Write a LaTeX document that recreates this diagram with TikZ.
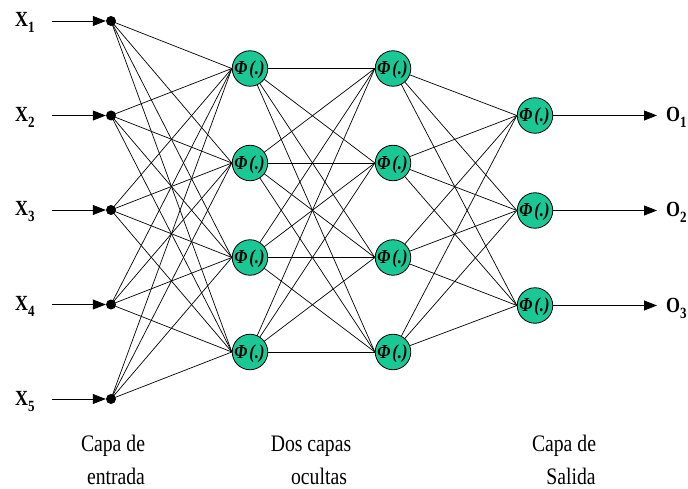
\documentclass[tikz,border=0pt]{standalone}
\usepackage{fontspec}
\setmainfont{Liberation Serif}[
  BoldFont={Liberation Serif Bold},
  ItalicFont={Liberation Serif Italic},
  BoldItalicFont={Liberation Serif Bold Italic}]
\usetikzlibrary{arrows.meta,backgrounds}
\definecolor{neuronfill}{RGB}{26,200,150}
% text set slightly taller than wide
\newcommand{\tall}[1]{\scalebox{1}[1.2]{#1}}
\newcommand{\phiact}{\tall{\bfseries\itshape Φ\hspace{2pt}(.)}}
\newcommand{\varsub}[2]{\tall{\bfseries #1\raisebox{-5pt}{\fontsize{13}{13}\bfseries\selectfont #2}}}
\tikzset{
  neuron/.style={circle,draw=black,line width=0.8pt,fill=neuronfill,minimum size=35.5pt,inner sep=0pt},
  phitext/.style={font=\fontsize{16.5}{16.5}\selectfont,inner sep=0pt},
  inputdot/.style={circle,fill=black,minimum size=10pt,inner sep=0pt},
  link/.style={line width=0.7pt},
  feed/.style={line width=0.8pt,-{Triangle[length=13pt,width=10pt]}},
  varlabel/.style={font=\fontsize{18}{18}\selectfont,anchor=base west,inner sep=0pt},
  caption/.style={font=\fontsize{19.7}{20}\selectfont,anchor=base,inner sep=0pt}
}
\begin{document}
\begin{tikzpicture}[x=1pt,y=-1pt]
\useasboundingbox (0,0) rectangle (688,489);

% input layer
\foreach \i/\y in {1/21,2/115.5,3/210,4/304.5,5/399}{
  \node[inputdot] (in\i) at (111,\y) {};
  \coordinate (src\i) at (52,\y);
  \node[varlabel] (xl\i) at (15,\y+6) {\varsub{X}{\i}};
}
% first hidden layer
\foreach \j/\y in {1/68.5,2/163,3/257.5,4/352}{
  \node[neuron] (ha\j) at (250,\y) {};
  \node[phitext] (ha\j t) at (249.5,\y+1.5) {\phiact};
}
% second hidden layer
\foreach \j/\y in {1/68.5,2/163,3/257.5,4/352}{
  \node[neuron] (hb\j) at (393,\y) {};
  \node[phitext] (hb\j t) at (392.5,\y+1.5) {\phiact};
}
% output layer
\foreach \k/\y in {1/115.5,2/210.5,3/305.5}{
  \node[neuron] (out\k) at (535,\y) {};
  \node[phitext] (out\k t) at (534.5,\y+1.5) {\phiact};
  \coordinate (dst\k) at (657,\y);
  \node[varlabel] (ol\k) at (666,\y+6.5) {\varsub{O}{\k}};
}

% connections
\begin{scope}[on background layer]
  \foreach \i in {1,...,5}
    \foreach \j in {1,...,4}
      \draw[link] (in\i.center) -- (ha\j.west);
  \foreach \i in {1,...,4}
    \foreach \j in {1,...,4}
      \draw[link] (ha\i.center) -- (hb\j.west);
  \foreach \i in {1,...,4}
    \foreach \k in {1,...,3}
      \draw[link] (hb\i.center) -- (out\k.west);
\end{scope}

% inputs and outputs
\foreach \i in {1,...,5}
  \draw[feed] (src\i) -- (in\i.west);
\foreach \k in {1,...,3}
  \draw[feed] (out\k.east) -- (dst\k);

% layer captions
\node[caption] (c1a) at (113,451) {\tall{Capa de}};
\node[caption] (c1b) at (116,484.5) {\tall{entrada}};
\node[caption] (c2a) at (311,451) {\tall{Dos capas}};
\node[caption] (c2b) at (319,484.5) {\tall{ocultas}};
\node[caption] (c3a) at (564,451) {\tall{Capa de}};
\node[caption] (c3b) at (571,484.5) {\tall{Salida}};
\end{tikzpicture}
\end{document}
